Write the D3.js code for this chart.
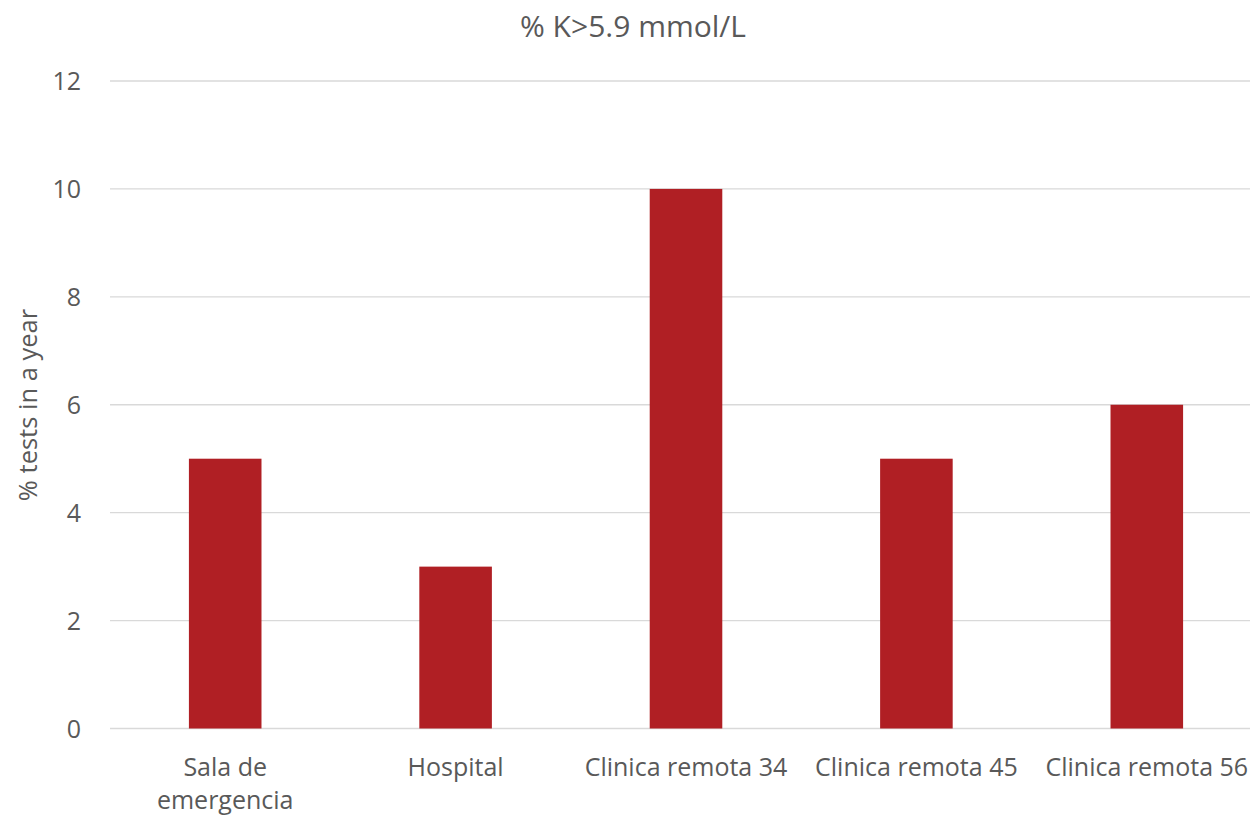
<!DOCTYPE html>
<html>
<head>
<meta charset="utf-8">
<script src="https://cdn.jsdelivr.net/npm/d3@7"></script>
<style>
  html, body { margin: 0; padding: 0; background: #fff; }
  svg { display: block; }
</style>
</head>
<body>
<svg id="chart" width="1250" height="816"></svg>
<script>
// Share of potassium tests above 5.9 mmol/L, by site
const categories = [["Sala de", "emergencia"], ["Hospital"], ["Clinica remota 34"], ["Clinica remota 45"], ["Clinica remota 56"]];
const values = [5, 3, 10, 5, 6];
const yTicks = [0, 2, 4, 6, 8, 10, 12];
const title = "% K>5.9 mmol/L";
const yTitle = "% tests in a year";

const svg = d3.select("#chart");
const font = "'Open Sans', 'Noto Sans', sans-serif";
const textColor = "#595959";

const plotLeft = 110, plotRight = 1262, plotTop = 81, plotBottom = 728.5;

const x = d3.scaleBand()
  .domain(d3.range(categories.length))
  .range([plotLeft, plotRight])
  .paddingInner(0.685)
  .paddingOuter(0.3425);

const y = d3.scaleLinear().domain([0, 12]).range([plotBottom, plotTop]);

// horizontal gridlines
svg.append("g")
  .selectAll("line")
  .data(yTicks)
  .join("line")
  .attr("x1", plotLeft).attr("x2", 1250)
  .attr("y1", d => y(d)).attr("y2", d => y(d))
  .attr("stroke", "#d9d9d9").attr("stroke-width", 1.3);

// y tick labels
svg.append("g")
  .selectAll("text")
  .data(yTicks)
  .join("text")
  .attr("x", 81).attr("y", d => y(d))
  .attr("dy", "0.36em")
  .attr("text-anchor", "end")
  .attr("font-family", font).attr("font-size", 25)
  .attr("fill", textColor)
  .text(d => d);

// bars
svg.append("g")
  .selectAll("rect")
  .data(values)
  .join("rect")
  .attr("x", (d, i) => x(i))
  .attr("width", x.bandwidth())
  .attr("y", d => y(d))
  .attr("height", d => y(0) - y(d))
  .attr("fill", "#b01f24");

// category labels
const cat = svg.append("g")
  .selectAll("text")
  .data(categories)
  .join("text")
  .attr("x", (d, i) => x(i) + x.bandwidth() / 2)
  .attr("y", 776)
  .attr("text-anchor", "middle")
  .attr("font-family", font).attr("font-size", 25)
  .attr("fill", textColor);
cat.selectAll("tspan")
  .data(d => d)
  .join("tspan")
  .attr("x", function () { return this.parentNode.getAttribute("x"); })
  .attr("dy", (d, i) => i === 0 ? 0 : 33)
  .text(d => d);

// title
svg.append("text")
  .attr("x", 633).attr("y", 37)
  .attr("text-anchor", "middle")
  .attr("font-family", font).attr("font-size", 30)
  .attr("fill", textColor)
  .text(title);

// y axis title
svg.append("text")
  .attr("transform", "translate(37,405) rotate(-90)")
  .attr("text-anchor", "middle")
  .attr("font-family", font).attr("font-size", 25.5)
  .attr("fill", textColor)
  .text(yTitle);
</script>
</body>
</html>
